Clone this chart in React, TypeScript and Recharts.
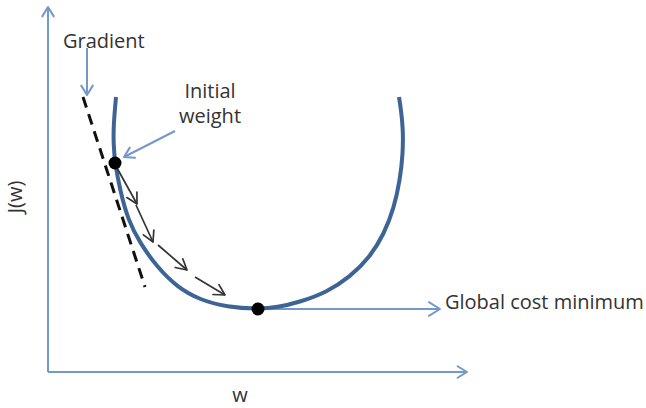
import {
  ComposedChart,
  Line,
  XAxis,
  YAxis,
  ReferenceLine,
  ReferenceDot,
} from 'recharts';

// cost curve J(w) (w to the right, J upwards, origin at the axes corner)
const curveW = [68, 65.5, 65.5, 67, 72, 80, 92, 109, 129, 152, 179, 210, 229, 252, 279, 302, 322, 336, 346, 352, 355, 355, 353, 351];
const curveJ = [275, 247, 227, 209, 182, 152, 129, 105, 85, 72, 65, 63, 64.5, 70, 80, 95, 115, 138, 164, 192, 219, 244, 262, 275];

// tangent (gradient) at the initial weight
const tangentW = [35, 97];
const tangentJ = [275, 85];

// gradient descent steps: [fromW, fromJ, toW, toJ]
const steps = [
  [69, 204, 89, 168],
  [88, 167, 105, 130],
  [110, 127, 139, 102],
  [147, 95, 177, 77],
];

// axes and callout arrows: [fromW, fromJ, toW, toJ]
const axes = [
  [0, 0, 0, 365],
  [0, 0, 419, 0],
];
const callouts = [
  [39, 324, 39, 277],
  [127, 241, 76, 215],
  [210, 63, 392, 63],
];

const initialWeight = { w: 67, J: 209 };
const minimum = { w: 210, J: 63 };

const labels = [
  { w: 15, J: 324, text: 'Gradient', anchor: 'start' },
  { w: 162, J: 274, text: 'Initial', anchor: 'middle' },
  { w: 162, J: 249, text: 'weight', anchor: 'middle' },
  { w: 397, J: 63, text: 'Global cost minimum', anchor: 'start' },
  { w: 192, J: -30, text: 'w', anchor: 'middle' },
];

const curveData = curveW.map((w, i) => ({ w, J: curveJ[i] }));
const tangentData = tangentW.map((w, i) => ({ w, J: tangentJ[i] }));

const AXIS_BLUE = '#7398cc';
const CURVE_BLUE = '#3e6496';
const TEXT = '#333';
const FONT = '"Open Sans", sans-serif';

const arrowShape = (color: string, width: number, head: number, spread = 0.55) =>
  (props: any) => {
    const { x1, y1, x2, y2 } = props;
    const ang = Math.atan2(y2 - y1, x2 - x1);
    const p1 = `${x2 - head * Math.cos(ang - spread)},${y2 - head * Math.sin(ang - spread)}`;
    const p2 = `${x2 - head * Math.cos(ang + spread)},${y2 - head * Math.sin(ang + spread)}`;
    return (
      <g>
        <line x1={x1} y1={y1} x2={x2} y2={y2} stroke={color} strokeWidth={width} />
        <polyline
          points={`${p1} ${x2},${y2} ${p2}`}
          fill="none"
          stroke={color}
          strokeWidth={width}
          strokeLinecap="round"
          strokeLinejoin="round"
        />
      </g>
    );
  };

const textShape = (text: string, anchor: string) => (props: any) => (
  <text
    x={props.cx}
    y={props.cy}
    textAnchor={anchor}
    fontFamily={FONT}
    fontSize={20}
    fill={TEXT}
  >
    {text}
  </text>
);

const segment = (s: number[]) => [
  { x: s[0], y: s[1] },
  { x: s[2], y: s[3] },
];

export default function App() {
  return (
    <div style={{ position: 'absolute', left: 0, top: 0, background: '#fff' }}>
      <ComposedChart width={646} height={408} margin={{ top: 0, right: 0, bottom: 0, left: 0 }}>
        <XAxis dataKey="w" type="number" domain={[-48, 598]} hide allowDataOverflow />
        <YAxis type="number" domain={[-36, 372]} hide allowDataOverflow />

        {axes.map((s, i) => (
          <ReferenceLine
            key={`axis-${i}`}
            segment={segment(s)}
            ifOverflow="visible"
            shape={arrowShape(AXIS_BLUE, 2, 11)}
          />
        ))}

        <Line
          data={tangentData}
          dataKey="J"
          type="linear"
          stroke="#111"
          strokeWidth={3}
          strokeDasharray="11 7"
          dot={false}
          activeDot={false}
          isAnimationActive={false}
        />

        {callouts.map((s, i) => (
          <ReferenceLine
            key={`callout-${i}`}
            segment={segment(s)}
            ifOverflow="visible"
            shape={arrowShape(AXIS_BLUE, 2, i === 2 ? 13 : 11)}
          />
        ))}

        <Line
          data={curveData}
          dataKey="J"
          type="basis"
          stroke={CURVE_BLUE}
          strokeWidth={4}
          dot={false}
          activeDot={false}
          isAnimationActive={false}
        />

        {steps.map((s, i) => (
          <ReferenceLine
            key={`step-${i}`}
            segment={segment(s)}
            ifOverflow="visible"
            shape={arrowShape('#333', 1.7, 12, 0.5)}
          />
        ))}

        <ReferenceDot x={initialWeight.w} y={initialWeight.J} r={6.5} fill="#000" stroke="none" ifOverflow="visible" />
        <ReferenceDot x={minimum.w} y={minimum.J} r={6.5} fill="#000" stroke="none" ifOverflow="visible" />

        {labels.map((l, i) => (
          <ReferenceDot
            key={`label-${i}`}
            x={l.w}
            y={l.J}
            ifOverflow="visible"
            shape={textShape(l.text, l.anchor)}
          />
        ))}
        <ReferenceDot
          x={-34}
          y={175}
          ifOverflow="visible"
          shape={(p: any) => (
            <text
              x={p.cx}
              y={p.cy}
              transform={`rotate(-90 ${p.cx} ${p.cy})`}
              textAnchor="middle"
              dominantBaseline="central"
              fontFamily={FONT}
              fontSize={20}
              fill={TEXT}
            >
              J(w)
            </text>
          )}
        />
      </ComposedChart>
    </div>
  );
}
